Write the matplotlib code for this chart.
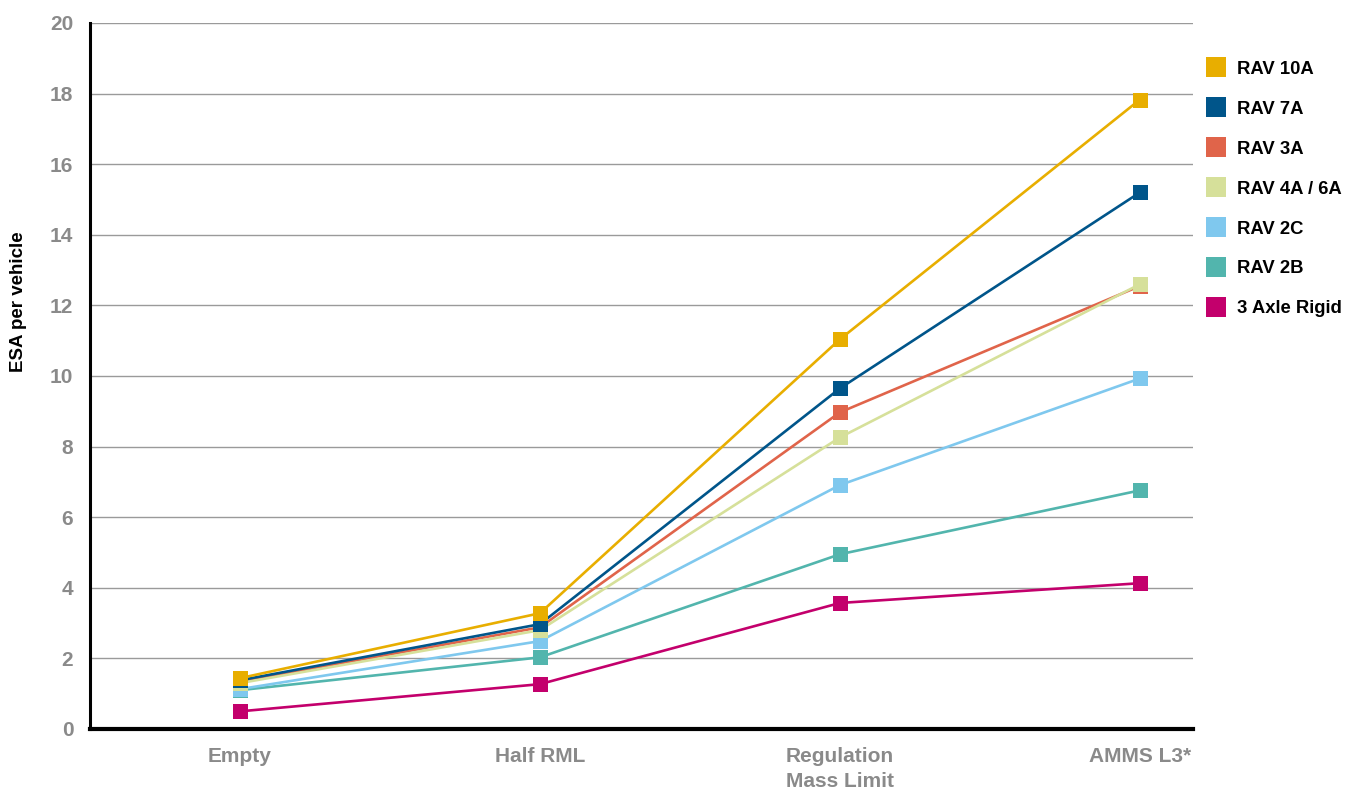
import matplotlib
matplotlib.use("Agg")
import matplotlib.pyplot as plt
from matplotlib.lines import Line2D

plt.rcParams['font.family'] = ['Liberation Sans', 'DejaVu Sans']

categories = ["Empty", "Half RML", "Regulation\nMass Limit", "AMMS L3*"]
series_names = ["RAV 10A", "RAV 7A", "RAV 3A", "RAV 4A / 6A", "RAV 2C", "RAV 2B", "3 Axle Rigid"]
colors = ["#E8AE00", "#00558A", "#E0644A", "#D6E09A", "#7FC8EE", "#52B5AD", "#C3006C"]

rav10a = [1.44, 3.28, 11.04, 17.83]
rav7a = [1.38, 2.97, 9.65, 15.20]
rav3a = [1.35, 2.88, 8.97, 12.55]
rav4a6a = [1.30, 2.80, 8.26, 12.60]
rav2c = [1.13, 2.49, 6.91, 9.93]
rav2b = [1.10, 2.03, 4.95, 6.76]
axle3_rigid = [0.50, 1.27, 3.57, 4.13]
values = [rav10a, rav7a, rav3a, rav4a6a, rav2c, rav2b, axle3_rigid]

yticks = [0, 2, 4, 6, 8, 10, 12, 14, 16, 18, 20]

# drawing order (higher = on top)
z_order = [17, 16, 14, 15, 13, 12, 11]

fig = plt.figure(figsize=(13.61, 7.92), dpi=100)
ax = fig.add_axes([90/1361, 1-729/792, (1193-90)/1361, (729-23)/792])

x = list(range(len(categories)))
for name, vals, c, z in zip(series_names, values, colors, z_order):
    ax.plot(x, vals, color=c, lw=1.9, marker='s', markersize=10.8, markeredgewidth=0,
            zorder=z, label=name, solid_capstyle='butt')

ax.set_xlim(-0.5, 3.177)
ax.set_ylim(0, 20)
ax.set_yticks(yticks)
ax.set_yticklabels([str(t) for t in yticks])
ax.set_xticks(x)
ax.set_xticklabels(categories, linespacing=1.4)
ax.grid(axis='y', color='#9a9a9a', lw=1.0, zorder=0)
ax.set_axisbelow(True)
ax.tick_params(axis='both', length=0, labelcolor='#8a8a8a', labelsize=15)
ax.tick_params(axis='y', pad=12)
ax.tick_params(axis='x', pad=13)
for lbl in ax.get_xticklabels() + ax.get_yticklabels():
    lbl.set_fontweight('bold')

for s in ['top', 'right']:
    ax.spines[s].set_visible(False)
ax.spines['left'].set_linewidth(2.2)
ax.spines['left'].set_color('black')
ax.spines['bottom'].set_linewidth(3)
ax.spines['bottom'].set_color('black')

ax.set_ylabel("ESA per vehicle", fontsize=13.5, fontweight='bold', color='black')
ax.yaxis.label.set_va('center')
ax.yaxis.set_label_coords((19-90)/1103, (729-302)/706)

handles = [Line2D([0], [0], color=c, marker='s', linestyle='none', markersize=14.4,
                  markeredgewidth=0) for c in colors]
leg = fig.legend(handles, series_names, loc='upper left',
                 bbox_to_anchor=(1199/1361, 1 - 53.5/792), frameon=False,
                 prop={'weight': 'bold', 'size': 13.3}, labelspacing=1.24,
                 handlelength=1.0, handletextpad=0.64, borderaxespad=0)

fig.savefig("out.png", dpi=100)
